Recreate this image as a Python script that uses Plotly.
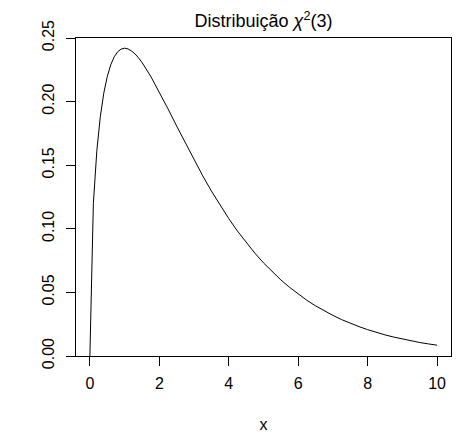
import plotly.graph_objects as go

# values (chi-square density, 3 df)
x_vals = [0.0, 0.1, 0.2, 0.3, 0.4, 0.5, 0.6, 0.7, 0.8, 0.9, 1.0, 1.1, 1.2, 1.3, 1.4, 1.5,
          1.75, 2.0, 2.25, 2.5, 2.75, 3.0, 3.25, 3.5, 3.75, 4.0, 4.25, 4.5, 4.75, 5.0,
          5.25, 5.5, 5.75, 6.0, 6.25, 6.5, 6.75, 7.0, 7.25, 7.5, 7.75, 8.0, 8.25, 8.5,
          8.75, 9.0, 9.25, 9.5, 9.75, 10.0]
y_vals = [0.0, 0.1200, 0.1614, 0.1881, 0.2066, 0.2197, 0.2289, 0.2352, 0.2392, 0.2413,
          0.2420, 0.2414, 0.2398, 0.2375, 0.2344, 0.2308, 0.2200, 0.2076, 0.1943, 0.1807,
          0.1673, 0.1542, 0.1416, 0.1297, 0.1185, 0.1080, 0.0982, 0.0892, 0.0809, 0.0732,
          0.0662, 0.0598, 0.0540, 0.0487, 0.0438, 0.0394, 0.0355, 0.0319, 0.0286, 0.0257,
          0.0231, 0.0207, 0.0185, 0.0166, 0.0149, 0.0133, 0.0119, 0.0106, 0.0095, 0.0085]

x_ticks = [0, 2, 4, 6, 8, 10]
y_ticks = [0.0, 0.05, 0.10, 0.15, 0.20, 0.25]
y_ticktext = ["0.00", "0.05", "0.10", "0.15", "0.20", "0.25"]

FONT = "Liberation Sans, Arial, sans-serif"

fig = go.Figure()
fig.add_trace(go.Scatter(x=x_vals, y=y_vals, mode="lines",
                         line=dict(color="black", width=1), showlegend=False,
                         hoverinfo="skip"))

fig.update_layout(
    width=470, height=433,
    margin=dict(l=76, r=19, t=38, b=77, pad=0, autoexpand=False),
    paper_bgcolor="white", plot_bgcolor="white",
    font=dict(family=FONT, size=16, color="black"),
    title=dict(text="Distribuição <i>χ</i><sup>2</sup>(3)",
               font=dict(family=FONT, size=18, color="black"),
               x=0.5, xref="paper", xanchor="center",
               y=1 - 21 / 433, yref="container", yanchor="middle"),
    xaxis=dict(range=[-0.4, 10.4], tickvals=x_ticks, ticks="outside", ticklen=9,
               tickwidth=1, tickcolor="black", showgrid=False, zeroline=False,
               showline=True, mirror=True, linecolor="black", linewidth=1,
               tickfont=dict(size=16), automargin=False, ticklabelstandoff=4,
               title=dict(text="x", font=dict(size=16), standoff=28)),
    yaxis=dict(range=[0, 0.25], tickvals=y_ticks, ticktext=y_ticktext,
               ticks="outside", ticklen=9, tickwidth=1, tickcolor="black",
               tickangle=-90, showgrid=False, zeroline=False, automargin=False,
               showline=True, mirror=True, linecolor="black", linewidth=1,
               tickfont=dict(size=16), ticklabelstandoff=6),
)

fig.write_html("out.html", config={"displayModeBar": False},
               post_script="document.body.style.margin='0px';document.body.style.padding='0px';")
